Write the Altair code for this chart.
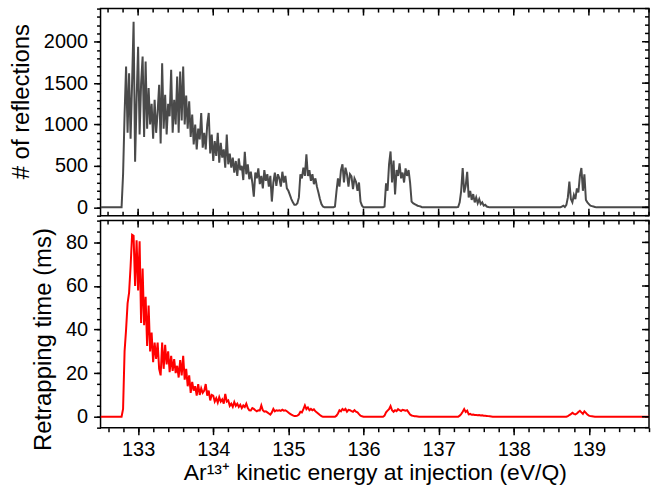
import altair as alt
import pandas as pd

# Energy scan grid (eV/Q): 132.50 ... 139.80 in steps of 0.02
energy_start = 132.50
energy_step = 0.02

# Number of reflections (top panel), one row = 10 scan points (0.2 eV/Q)
reflections = [
    0, 0, 0, 0, 0, 0, 0, 0, 0, 0,                                  # 132.50
    0, 0, 0, 0, 0, 400, 1120, 1700, 900, 1620,                     # 132.70
    830, 1500, 2240, 550, 1300, 1940, 880, 1500, 1820, 850,        # 132.90
    1760, 950, 1440, 1000, 1250, 830, 1300, 900, 1150, 1480,       # 133.10
    770, 1740, 950, 1360, 880, 1250, 1100, 1660, 900, 1300,        # 133.30
    1000, 1580, 900, 1640, 1050, 1700, 1000, 1350, 950, 1280,      # 133.50
    850, 1120, 760, 1000, 700, 950, 820, 1140, 720, 900,           # 133.70
    700, 1000, 1140, 650, 880, 560, 800, 620, 900, 540,            # 133.90
    780, 600, 700, 480, 880, 520, 650, 480, 600, 420,              # 134.10
    560, 380, 590, 450, 500, 330, 670, 400, 520, 340,              # 134.30
    430, 300, 130, 420, 350, 470, 280, 380, 230, 450,              # 134.50
    320, 400, 250, 380, 70, 300, 420, 260, 400, 350,               # 134.70
    250, 430, 300, 380, 230, 200, 150, 100, 60, 30,                # 134.90
    30, 50, 120, 400, 350, 480, 380, 640, 380, 450,                # 135.10
    320, 400, 280, 350, 250, 180, 100, 40, 10, 0,                  # 135.30
    0, 0, 0, 0, 0, 0, 10, 190, 350, 250,                           # 135.50
    450, 520, 300, 480, 400, 250, 400, 375, 220, 350,              # 135.70
    310, 200, 300, 70, 20, 0, 0, 0, 0, 0,                          # 135.90
    0, 0, 0, 0, 0, 0, 0, 0, 0, 10,                                 # 136.10
    290, 200, 520, 675, 300, 565, 155, 450, 380, 530,              # 136.30
    350, 420, 300, 470, 380, 450, 300, 70, 50, 40,                 # 136.50
    30, 20, 15, 10, 0, 0, 0, 0, 0, 0,                              # 136.70
    0, 0, 0, 0, 0, 0, 0, 0, 0, 0,                                  # 136.90
    0, 0, 0, 0, 0, 0, 0, 0, 5, 60,                                 # 137.10
    200, 475, 180, 260, 430, 120, 200, 90, 160, 60,                # 137.30
    120, 50, 100, 40, 60, 20, 30, 10, 5, 0,                        # 137.50
    0, 0, 0, 0, 0, 0, 0, 0, 0, 0,                                  # 137.70
    0, 0, 0, 0, 0, 0, 0, 0, 0, 0,                                  # 137.90
    0, 0, 0, 0, 0, 0, 0, 0, 0, 0,                                  # 138.10
    0, 0, 0, 0, 0, 0, 0, 0, 0, 0,                                  # 138.30
    0, 0, 0, 0, 0, 0, 0, 10, 20, 5,                                # 138.50
    30, 120, 310, 100, 60, 150, 100, 230, 180, 380,                # 138.70
    475, 200, 400, 90, 60, 40, 20, 15, 10, 5,                      # 138.90
    0, 0, 0, 0, 0, 0, 0, 0, 0, 0,                                  # 139.10
    0, 0, 0, 0, 0, 0, 0, 0, 0, 0,                                  # 139.30
    0, 0, 0, 0, 0, 0, 0, 0, 0, 0,                                  # 139.50
    0, 0, 0, 0, 0, 0,                                              # 139.70
]

# Retrapping time in ms (bottom panel), same grid
retrapping = [
    0, 0, 0, 0, 0, 0, 0, 0, 0, 0,                                  # 132.50
    0, 0, 0, 0, 0, 3.6, 30, 40, 52, 57,                            # 132.70
    69, 83.5, 83, 60, 81, 58, 80.5, 43, 68, 42,                    # 132.90
    55, 32.5, 51, 30, 38.6, 25, 34, 26.5, 34, 22,                  # 133.10
    19, 34, 22, 33, 24, 30, 20.5, 28, 21, 26.5,                    # 133.30
    20, 23.4, 18, 26, 19, 28, 17, 22, 14, 19,                      # 133.50
    11, 16, 12, 14, 9.7, 15, 10, 13, 11, 12,                       # 133.70
    15, 9.7, 12, 7.5, 10, 9.7, 7, 8.5, 6.5, 9,                     # 133.90
    7, 8, 6, 10.5, 7, 7.5, 5, 6, 4.6, 6.8,                         # 134.10
    5, 6, 4.5, 5.5, 4, 5.2, 4.5, 6, 4, 3,                          # 134.30
    2.9, 4, 3.6, 3, 2.5, 3, 2.9, 5.2, 3, 2.3,                      # 134.50
    2.5, 2, 1.5, 1, 2, 3.6, 2.5, 3, 2.8, 3,                        # 134.70
    2.7, 3.2, 2.8, 3, 2.5, 2, 1.4, 1, 0.6, 0.3,                    # 134.90
    0.3, 0.5, 1, 2.3, 2, 3.5, 5.2, 3.5, 4.3, 3,                    # 135.10
    3.6, 3, 3.4, 2.5, 2, 1.4, 0.8, 0.3, 0, 0,                      # 135.30
    0, 0, 0, 0, 0, 0, 0, 0.5, 1.5, 3,                              # 135.50
    2.5, 3.6, 3, 3.6, 2.3, 3.2, 3, 2.6, 2.3, 3,                    # 135.70
    2.3, 2, 1.2, 0.5, 0.2, 0, 0, 0, 0, 0,                          # 135.90
    0, 0, 0, 0, 0, 0, 0, 0, 0, 0.5,                                # 136.10
    2, 2.8, 3.5, 4.9, 3, 2.3, 3, 2.6, 3.5, 3,                      # 136.30
    2.6, 3.2, 3, 2.8, 3, 2, 1, 0.6, 0.4, 0.2,                      # 136.50
    0.2, 0.1, 0, 0, 0, 0, 0, 0, 0, 0,                              # 136.70
    0, 0, 0, 0, 0, 0, 0, 0, 0, 0,                                  # 136.90
    0, 0, 0, 0, 0, 0, 0, 0, 0, 0.5,                                # 137.10
    1.2, 2.3, 3.5, 2.2, 2.8, 1.1, 1.3, 0.9, 1.0, 0.8,              # 137.30
    0.8, 0.7, 0.8, 0.6, 0.7, 0.5, 0.5, 0.4, 0.3, 0.2,              # 137.50
    0.1, 0, 0, 0, 0, 0, 0, 0, 0, 0,                                # 137.70
    0, 0, 0, 0, 0, 0, 0, 0, 0, 0,                                  # 137.90
    0, 0, 0, 0, 0, 0, 0, 0, 0, 0,                                  # 138.10
    0, 0, 0, 0, 0, 0, 0, 0, 0, 0,                                  # 138.30
    0, 0, 0, 0, 0, 0, 0, 0, 0, 0,                                  # 138.50
    0, 0.3, 0.8, 1.2, 1.8, 1.3, 1.1, 1.5, 2.2, 2.7,                # 138.70
    2.0, 1.3, 2.5, 1.8, 1.0, 0.5, 0.3, 0.2, 0.1, 0,                # 138.90
    0, 0, 0, 0, 0, 0, 0, 0, 0, 0,                                  # 139.10
    0, 0, 0, 0, 0, 0, 0, 0, 0, 0,                                  # 139.30
    0, 0, 0, 0, 0, 0, 0, 0, 0, 0,                                  # 139.50
    0, 0, 0, 0, 0, 0,                                              # 139.70
]

energy = [round(energy_start + i * energy_step, 2) for i in range(len(reflections))]

x_major = [133, 134, 135, 136, 137, 138, 139]
x_minor = [round(132.6 + 0.2 * i, 1) for i in range(37)]
top_y_major = [0, 500, 1000, 1500, 2000]
top_y_minor = list(range(-100, 2401, 100))
bot_y_major = [0, 20, 40, 60, 80]
bot_y_minor = list(range(-5, 91, 5))

X_DOMAIN = [132.5, 139.8]
W, H = 551, 208
MAJ, MIN = 7, 4
FONT = "Liberation Sans"

df_top = pd.DataFrame({"energy": energy, "value": reflections})
df_bot = pd.DataFrame({"energy": energy, "value": retrapping})

STYLE = dict(labelFont=FONT, titleFont=FONT, labelFontSize=20, titleFontSize=24,
             titleFontWeight="normal", labelColor="black", titleColor="black",
             tickColor="black", tickWidth=1.5, domain=False, grid=False,
             minExtent=0)


def ax(orient, values, size, labels=False, title=None, **kw):
    args = dict(STYLE)
    args.update(orient=orient, values=values, tickSize=size,
                labels=labels, title=title)
    args.update(kw)
    return alt.Axis(**args)


def xrules(values, xs, y0, y1):
    return alt.Chart(pd.DataFrame({"t": values})).mark_rule(
        color="black", strokeWidth=1.5
    ).encode(x=alt.X("t:Q", scale=xs, axis=None), y=alt.value(y0), y2=alt.value(y1))


def yrules(values, ys, x0, x1):
    return alt.Chart(pd.DataFrame({"t": values})).mark_rule(
        color="black", strokeWidth=1.5
    ).encode(y=alt.Y("t:Q", scale=ys, axis=None), x=alt.value(x0), x2=alt.value(x1))


def panel(df, color, ydomain, ymaj, ymin, ytitle, title_y, is_bottom, xtitle):
    xs = alt.Scale(domain=X_DOMAIN, nice=False, zero=False)
    ys = alt.Scale(domain=ydomain, nice=False, zero=False)
    base = alt.Chart(df)

    if is_bottom:
        xaxis_main = ax("bottom", x_major, MAJ, labels=True, title=xtitle,
                        format="d", labelPadding=5, titlePadding=2,
                        titleFontSize=23)
        xaxis_minor = ax("bottom", x_minor, MIN)
    else:
        xaxis_main = None
        xaxis_minor = None

    main = base.mark_line(color=color, strokeWidth=2, clip=True).encode(
        x=alt.X("energy:Q", scale=xs, axis=xaxis_main),
        y=alt.Y("value:Q", scale=ys,
                axis=ax("left", ymaj, MAJ, labels=True, title=ytitle,
                        format="d", labelPadding=6, titlePadding=10,
                        titleY=title_y)),
    )
    minor = base.mark_line(opacity=0, clip=True).encode(
        x=alt.X("energy:Q", scale=xs, axis=xaxis_minor),
        y=alt.Y("value:Q", scale=ys, axis=ax("left", ymin, MIN)),
    )
    layers = [main, minor,
              # inward ticks on the top edge
              xrules(x_major, xs, 0, MAJ), xrules(x_minor, xs, 0, MIN),
              # inward ticks on the right edge
              yrules(ymaj, ys, W - MAJ, W), yrules(ymin, ys, W - MIN, W)]
    if not is_bottom:
        # inward ticks on the shared boundary (bottom edge of the top panel)
        layers += [xrules(x_major, xs, H - MAJ, H), xrules(x_minor, xs, H - MIN, H)]
    return alt.layer(*layers).resolve_axis(
        x="independent", y="independent"
    ).properties(width=W, height=H)


top = panel(df_top, "#4a4a4a", [-100, 2400], top_y_major, top_y_minor,
            "# of reflections", 93, False, None)
bottom = panel(df_bot, "#ff0000", [-5, 90], bot_y_major, bot_y_minor,
               "Retrapping time (ms)", 119, True,
               "Ar\u00b9\u00b3\u207a kinetic energy at injection (eV/Q)")

chart = alt.vconcat(top, bottom, spacing=0).properties(
    padding={"left": 8, "top": 5.5, "right": 0, "bottom": 5},
    background="white",
).configure_view(
    stroke="black", strokeWidth=1.5
)

chart.save("out.html", embed_options={"renderer": "svg", "actions": False})
